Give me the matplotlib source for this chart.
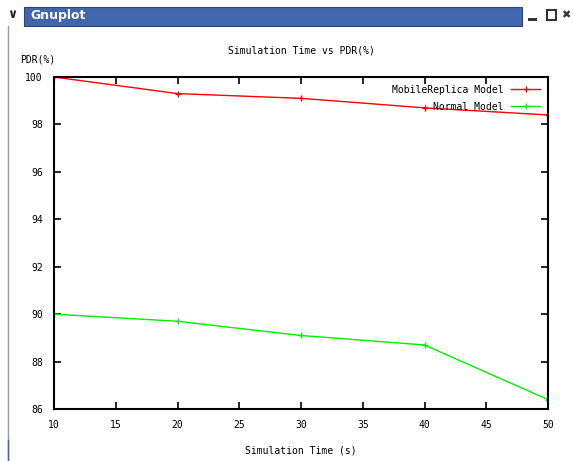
import matplotlib.pyplot as plt
import matplotlib.patches as patches

# data
sim_time = [10, 20, 30, 40, 50]
pdr_replica = [100.0, 99.3, 99.1, 98.7, 98.4]
pdr_normal = [90.0, 89.7, 89.1, 88.7, 86.4]
x_ticks = [10, 15, 20, 25, 30, 35, 40, 45, 50]
y_ticks = [86, 88, 90, 92, 94, 96, 98, 100]

W, H = 574, 461
fig = plt.figure(figsize=(W / 100, H / 100), dpi=100)
fig.patch.set_facecolor('white')

MONO = 'DejaVu Sans Mono'

# --- window chrome (title bar) ---
def px(x, y, w, h):
    return (x / W, 1 - (y + h) / H), w / W, h / H

(x0, y0), w, h = px(24, 7, 498, 19)
fig.patches.append(patches.Rectangle((x0, y0), w, h, transform=fig.transFigure,
                                     facecolor='#4166ad', edgecolor='#2b4680', lw=0.8))
fig.text(30 / W, 1 - 16 / H, 'Gnuplot', color='white', fontsize=9, fontweight='bold',
         va='center', ha='left', family='DejaVu Sans')
fig.text(12 / W, 1 - 15 / H, '\u2228', color='#222222', fontsize=9, fontweight='bold',
         va='center', ha='center')
# window buttons
(bx, by), bw, bh = px(528, 18, 9, 3)
fig.patches.append(patches.Rectangle((bx, by), bw, bh, transform=fig.transFigure,
                                     facecolor='#333333', edgecolor='none'))
(bx, by), bw, bh = px(547, 10, 9, 10)
fig.patches.append(patches.Rectangle((bx, by), bw, bh, transform=fig.transFigure,
                                     facecolor='white', edgecolor='#333333', lw=1.5))
fig.text(566 / W, 1 - 15 / H, '\u2716', color='#333333', fontsize=8,
         va='center', ha='center', family='DejaVu Sans')
# left window border
fig.lines.append(plt.Line2D([8 / W, 8 / W], [0, 1 - 26 / H], transform=fig.transFigure,
                            color='#9a9a9a', lw=1))
fig.lines.append(plt.Line2D([8 / W, 8 / W], [0, 1 - 440 / H], transform=fig.transFigure,
                            color='#3f63a8', lw=1))

# --- plot area ---
left, right, top, bottom = 54, 548, 77, 409
ax = fig.add_axes([left / W, 1 - bottom / H, (right - left) / W, (bottom - top) / H])

ax.plot(sim_time, pdr_replica, color='red', lw=1, marker='+', ms=4, mew=1,
        label='MobileReplica Model')
ax.plot(sim_time, pdr_normal, color='#00ee00', lw=1, marker='+', ms=4, mew=1,
        label='Normal Model')

ax.set_xlim(10, 50)
ax.set_ylim(86, 100)
ax.set_xticks(x_ticks)
ax.set_yticks(y_ticks)
ax.tick_params(direction='in', top=True, right=True, length=5, width=1.2,
               labelsize=7, pad=8)
for lab in ax.get_xticklabels() + ax.get_yticklabels():
    lab.set_family(MONO)
for s in ax.spines.values():
    s.set_linewidth(1.5)

ax.set_title('Simulation Time vs PDR(%)', fontsize=7, family=MONO, pad=17)
ax.set_xlabel('Simulation Time (s)', fontsize=7, family=MONO, labelpad=11)
fig.text(20 / W, 1 - 59 / H, 'PDR(%)', fontsize=7, family=MONO, va='center', ha='left')

leg = ax.legend(loc='upper right', frameon=False, prop={'family': MONO, 'size': 7},
                markerfirst=False, handlelength=3, borderaxespad=0.4, labelspacing=0.7)

fig.savefig('out.png', dpi=100)
